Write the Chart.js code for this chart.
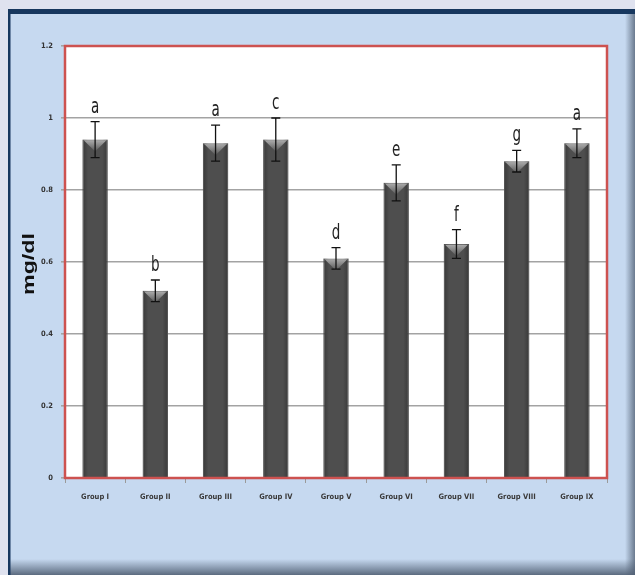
<!DOCTYPE html>
<html>
<head>
<meta charset="utf-8">
<script src="https://cdn.jsdelivr.net/npm/chart.js@4/dist/chart.umd.min.js"></script>
<style>
  html, body { margin: 0; padding: 0; background: #dfe2ef; overflow: hidden; }
  canvas { display: block; }
</style>
</head>
<body>
<canvas id="chart" width="635" height="575"></canvas>
<script>
// Serum level (mg/dl) per group, mean ± SD, with significance letters
const groups = ['Group I', 'Group II', 'Group III', 'Group IV', 'Group V', 'Group VI', 'Group VII', 'Group VIII', 'Group IX'];
const means = [0.94, 0.52, 0.93, 0.94, 0.61, 0.82, 0.65, 0.88, 0.93];
const errors = [0.05, 0.03, 0.05, 0.06, 0.03, 0.05, 0.04, 0.03, 0.04];
const letters = ['a', 'b', 'a', 'c', 'd', 'e', 'f', 'g', 'a'];
const yTicks = [0, 0.2, 0.4, 0.6, 0.8, 1, 1.2];
const yTickLabels = ['0', '0.2', '0.4', '0.6', '0.8', '1', '1.2'];
const yTitle = 'mg/dl';

const NARROW = '"Liberation Sans Narrow", "DejaVu Sans Condensed", sans-serif';

// Panel background, white plot area and the rotated axis title
const backdrop = {
  id: 'backdrop',
  beforeDraw(chart) {
    const { ctx, width, height, chartArea: a } = chart;
    ctx.save();
    ctx.fillStyle = '#dfe2ef';
    ctx.fillRect(0, 0, width, height);
    // panel
    ctx.fillStyle = '#c6d9f0';
    ctx.fillRect(8, 9, width - 8, height - 9);
    // right and bottom soft shadow
    let g = ctx.createLinearGradient(width - 10, 0, width, 0);
    g.addColorStop(0, 'rgba(90,105,125,0)');
    g.addColorStop(1, 'rgba(90,105,125,0.85)');
    ctx.fillStyle = g;
    ctx.fillRect(width - 10, 14, 10, height - 14);
    g = ctx.createLinearGradient(0, height - 16, 0, height);
    g.addColorStop(0, 'rgba(80,95,115,0)');
    g.addColorStop(1, 'rgba(80,95,115,0.9)');
    ctx.fillStyle = g;
    ctx.fillRect(10, height - 16, width - 10, 16);
    // navy frame on top and left
    ctx.fillStyle = '#17375e';
    ctx.fillRect(8, 9, width - 8, 5);
    ctx.fillRect(8, 9, 2.5, height - 9);
    // plot area
    ctx.fillStyle = '#ffffff';
    ctx.fillRect(a.left, a.top, a.right - a.left, a.bottom - a.top);
    // y title, rotated
    ctx.translate(30, (a.top + a.bottom) / 2 + 2);
    ctx.rotate(-Math.PI / 2);
    ctx.scale(1.45, 1);
    ctx.fillStyle = '#111';
    ctx.font = 'bold 16px "Liberation Sans", Arial, sans-serif';
    ctx.textAlign = 'center';
    ctx.textBaseline = 'middle';
    ctx.fillText(yTitle, 0, 0);
    ctx.restore();
  }
};

// Bevel shading on bars, SD whiskers and significance letters
const barDecor = {
  id: 'barDecor',
  afterDatasetsDraw(chart) {
    const { ctx } = chart;
    const meta = chart.getDatasetMeta(0);
    const y = chart.scales.y;
    ctx.save();
    meta.data.forEach((bar, i) => {
      const w = bar.width;
      const x0 = bar.x - w / 2, x1 = bar.x + w / 2;
      const top = bar.y, base = bar.base;
      // darker sides
      let g = ctx.createLinearGradient(x0, 0, x1, 0);
      g.addColorStop(0, 'rgba(0,0,0,0.28)');
      g.addColorStop(0.22, 'rgba(0,0,0,0)');
      g.addColorStop(0.78, 'rgba(0,0,0,0)');
      g.addColorStop(1, 'rgba(0,0,0,0.28)');
      ctx.fillStyle = g;
      ctx.fillRect(x0, top, w, base - top);
      // light top facet
      g = ctx.createLinearGradient(0, top, 0, top + 12);
      g.addColorStop(0, 'rgba(210,210,210,0.75)');
      g.addColorStop(1, 'rgba(210,210,210,0.05)');
      ctx.fillStyle = g;
      ctx.beginPath();
      ctx.moveTo(x0 + 1.5, top + 1);
      ctx.lineTo(x1 - 1.5, top + 1);
      ctx.lineTo(bar.x, top + 12);
      ctx.closePath();
      ctx.fill();

      // whisker
      const hi = y.getPixelForValue(means[i] + errors[i]);
      const lo = y.getPixelForValue(means[i] - errors[i]);
      ctx.strokeStyle = '#111';
      ctx.lineWidth = 1.3;
      ctx.beginPath();
      ctx.moveTo(bar.x, hi); ctx.lineTo(bar.x, lo);
      ctx.moveTo(bar.x - 4.5, hi); ctx.lineTo(bar.x + 4.5, hi);
      ctx.moveTo(bar.x - 4.5, lo); ctx.lineTo(bar.x + 4.5, lo);
      ctx.stroke();

      // letter
      ctx.save();
      ctx.translate(bar.x, hi - 9);
      ctx.scale(1, 1.4);
      ctx.fillStyle = '#222';
      ctx.font = '15px ' + NARROW;
      ctx.textAlign = 'center';
      ctx.textBaseline = 'alphabetic';
      ctx.fillText(letters[i], 0, 0);
      ctx.restore();
    });
    ctx.restore();
  },
  afterDraw(chart) {
    const { ctx, chartArea: a } = chart;
    ctx.save();
    ctx.strokeStyle = '#cd5250';
    ctx.lineWidth = 2.5;
    ctx.strokeRect(a.left, a.top, a.right - a.left, a.bottom - a.top);
    ctx.restore();
  }
};

new Chart(document.getElementById('chart'), {
  type: 'bar',
  data: {
    labels: groups,
    datasets: [{
      data: means,
      backgroundColor: '#4e4e4e',
      borderColor: '#6e6e6e',
      borderWidth: 1,
      categoryPercentage: 1,
      barPercentage: 0.42
    }]
  },
  options: {
    responsive: false,
    animation: false,
    events: [],
    layout: { padding: { left: 20, right: 28, top: 46, bottom: 0 } },
    plugins: { legend: { display: false }, tooltip: { enabled: false } },
    scales: {
      x: {
        afterFit(s) { s.height = 97; },
        border: { display: false },
        grid: { drawOnChartArea: false, drawTicks: true, tickLength: 5, color: '#9a9a9a', offset: true },
        ticks: {
          color: '#3a3a3a',
          padding: 10,
          maxRotation: 0,
          autoSkip: false,
          font: { family: NARROW, size: 7.5, weight: 'bold' }
        }
      },
      y: {
        min: 0,
        max: 1.2,
        afterFit(s) { s.width = 45; },
        afterBuildTicks(s) { s.ticks = yTicks.map(v => ({ value: v })); },
        border: { display: false },
        grid: { color: '#a3a3a3', lineWidth: 1.6, tickLength: 4 },
        ticks: {
          color: '#333',
          padding: 8,
          font: { family: NARROW, size: 7.5, weight: 'bold' },
          callback: (v, i) => yTickLabels[i]
        }
      }
    }
  },
  plugins: [backdrop, barDecor]
});
</script>
</body>
</html>
